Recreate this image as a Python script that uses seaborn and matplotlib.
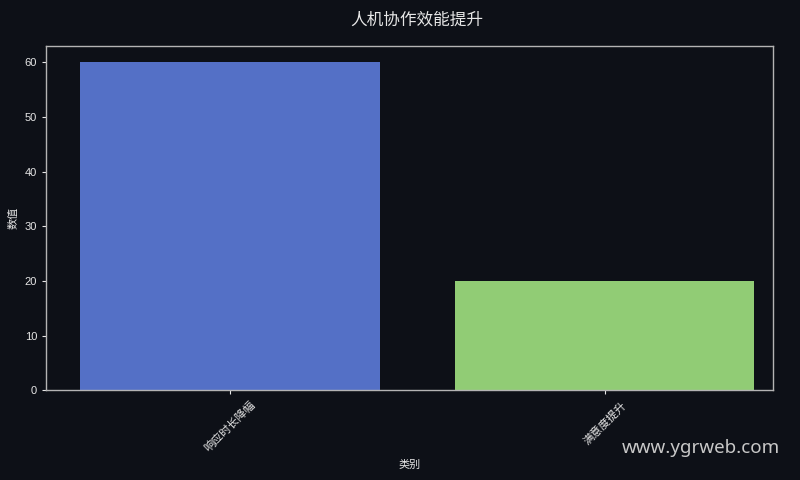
import numpy as np
import pandas as pd
import seaborn as sns
import matplotlib
matplotlib.use("Agg")
import matplotlib.pyplot as plt

# chart data
categories = ['响应时长降幅', '满意度提升']
values = [60, 20]
bar_colors = ['#5470c6', '#91cc75']

title = '人机协作效能提升'
xlabel = '类别'
ylabel = '数值'
watermark = 'www.ygrweb.com'

bg = '#0d1017'
fg = '#e6e6e6'

sns.set_theme(style='dark')
plt.rcParams['font.family'] = ['Liberation Sans', 'Noto Sans CJK SC', 'DejaVu Sans']
plt.rcParams['axes.unicode_minus'] = False

df = pd.DataFrame({'类别': categories, '数值': values})

fig = plt.figure(figsize=(8, 4.8), dpi=100, facecolor=bg)
ax = fig.add_axes([0.0575, 0.187, 0.909, 0.717])
ax.set_facecolor(bg)

sns.barplot(data=df, x='类别', y='数值', hue='类别', palette=bar_colors,
            legend=False, width=0.8, saturation=1, linewidth=0, ax=ax)
ax.set_xlim(-0.49, 1.45)
ax.set_ylim(0, 63)

for spine in ax.spines.values():
    spine.set_color('#b4b4b4')
    spine.set_linewidth(1.0)

ax.tick_params(axis='both', colors=fg, labelsize=8, length=3, width=0.8,
               bottom=True, left=True)
ax.tick_params(axis='x', rotation=45)
for lbl in ax.get_xticklabels():
    lbl.set_ha('center')
ax.set_yticks([0, 10, 20, 30, 40, 50, 60])
ax.grid(False)

ax.set_xlabel(xlabel, color=fg, fontsize=8, labelpad=4)
ax.set_ylabel(ylabel, color=fg, fontsize=8)
fig.text(0.521, 0.959, title, color=fg, fontsize=12, ha='center', va='center')

fig.text(0.975, 0.067, watermark, color='#c8c8c8', fontsize=13.5,
         ha='right', va='center', family=['Noto Sans', 'DejaVu Sans'])

fig.savefig('out.png', dpi=100, facecolor=bg)
